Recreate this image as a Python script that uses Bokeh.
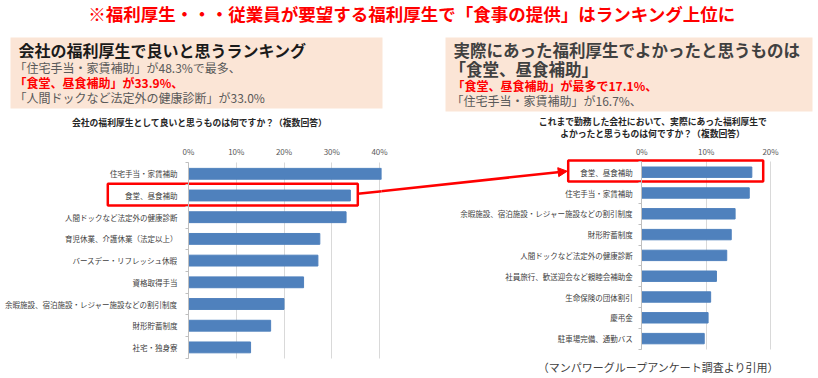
from bokeh.plotting import figure
from bokeh.models import (Range1d, FixedTicker, PrintfTickFormatter, Arrow, NormalHead)
from bokeh.layouts import column, row
from bokeh.core.properties import value
from bokeh.embed import file_html
from bokeh.resources import INLINE

FONT = "Noto Sans CJK JP"

# ---------------- data ----------------
main_title = "※福利厚生・・・従業員が要望する福利厚生で「食事の提供」はランキング上位に"

left_heading = "会社の福利厚生で良いと思うランキング"
left_lines = ["「住宅手当・家賃補助」が48.3%で最多、",
              "「食堂、昼食補助」が33.9%、",
              "「人間ドックなど法定外の健康診断」が33.0%"]
right_heading = ["実際にあった福利厚生でよかったと思うものは", "「食堂、昼食補助」"]
right_lines = ["「食堂、昼食補助」が最多で17.1%、",
               "「住宅手当・家賃補助」が16.7%、"]

left_chart_title = "会社の福利厚生として良いと思うものは何ですか？（複数回答）"
right_chart_title = ["これまで勤務した会社において、実際にあった福利厚生で",
                     "よかったと思うものは何ですか？（複数回答）"]
source_note = "（マンパワーグループアンケート調査より引用）"

left_cats = ["住宅手当・家賃補助", "食堂、昼食補助", "人間ドックなど法定外の健康診断",
             "育児休業、介護休業（法定以上）", "バースデー・リフレッシュ休暇", "資格取得手当",
             "余暇施設、宿泊施設・レジャー施設などの割引制度", "財形貯蓄制度", "社宅・独身寮"]
left_vals = [48.3, 33.9, 33.0, 27.5, 27.1, 24.1, 20.0, 17.2, 13.0]
left_ticks = [0, 10, 20, 30, 40]

right_cats = ["食堂、昼食補助", "住宅手当・家賃補助", "余暇施設、宿泊施設・レジャー施設などの割引制度",
              "財形貯蓄制度", "人間ドックなど法定外の健康診断", "社員旅行、歓送迎会など親睦会補助金",
              "生命保険の団体割引", "慶弔金", "駐車場完備、通勤バス"]
right_vals = [17.1, 16.7, 14.5, 13.9, 13.2, 11.6, 10.7, 10.3, 9.7]
right_ticks = [0, 10, 20]

BAR = "#4F81BD"
RED = "#FF0000"
BOX = "#FBE5D6"
GRID = "#D9D9D9"

# ---------------- header (page coordinates) ----------------
HW, HH = 818, 140
hdr = figure(width=HW, height=HH, x_range=Range1d(0, HW), y_range=Range1d(HH, 0),
             output_backend="svg", toolbar_location=None, min_border=0,
             x_axis_type=None, y_axis_type=None, outline_line_color=None)
hdr.xgrid.visible = False
hdr.ygrid.visible = False

hdr.quad(left=[10, 445], right=[382, 812], top=[37, 37], bottom=[108, 111],
         fill_color=BOX, line_color=None)

hdr.text(x=[411.5], y=[13], text=[main_title], text_font=value(FONT),
         text_font_size="17.5px", text_font_style="bold", text_color=RED,
         text_align="center", text_baseline="middle")

hdr.text(x=[18], y=[49], text=[left_heading], text_font=value(FONT),
         text_font_size="16px", text_font_style="bold", text_color="#1A1A1A",
         text_align="left", text_baseline="middle")
hdr.text(x=[14, 14, 14], y=[67.3, 81.7, 96.7], text=left_lines, text_font=value(FONT),
         text_font_size="12px",
         text_font_style=["normal", "bold", "normal"],
         text_color=["#595959", RED, "#595959"],
         text_align="left", text_baseline="middle")

hdr.text(x=[453, 449], y=[49, 68.3], text=right_heading, text_font=value(FONT),
         text_font_size="16.5px", text_font_style="bold", text_color="#404040",
         text_align="left", text_baseline="middle")
hdr.text(x=[452, 451], y=[85, 100], text=right_lines, text_font=value(FONT),
         text_font_size="12px", text_font_style=["bold", "normal"],
         text_color=[RED, "#595959"], text_align="left", text_baseline="middle")

hdr.text(x=[199], y=[122], text=[left_chart_title], text_font=value(FONT),
         text_font_size="8.8px", text_font_style="bold", text_color="#262626",
         text_align="center", text_baseline="middle")
hdr.text(x=[652.5, 652], y=[121, 132.7], text=right_chart_title, text_font=value(FONT),
         text_font_size="8.8px", text_font_style="bold", text_color="#262626",
         text_align="center", text_baseline="middle")


CH = 238          # chart figure height (page 140..378)
CTOP = 18         # border above frame (x-axis labels)
FRAME_TOP = HH + CTOP


def style_chart(p, cats, ticks, standoff_y):
    n = len(cats)
    ticker = FixedTicker(ticks=ticks)
    p.xaxis.ticker = ticker
    p.xgrid.ticker = ticker
    p.xaxis.formatter = PrintfTickFormatter(format="%d%%")
    p.xaxis.axis_line_color = None
    p.xaxis.major_tick_line_color = None
    p.xaxis.minor_tick_line_color = None
    p.xaxis.major_tick_out = 0
    p.xaxis.major_tick_in = 0
    p.xaxis.major_label_standoff = 2
    p.xaxis.major_label_text_font = FONT
    p.xaxis.major_label_text_font_size = "8px"
    p.xaxis.major_label_text_color = "#595959"
    p.xgrid.grid_line_color = GRID
    try:
        p.xgrid.cross_bounds = (-0.5, n - 0.5)
    except Exception:
        pass
    p.ygrid.visible = False
    p.yaxis.ticker = FixedTicker(ticks=list(range(n)),
                                 minor_ticks=[i - 0.5 for i in range(n + 1)])
    p.yaxis.major_label_overrides = {i: c for i, c in enumerate(cats)}
    p.yaxis.fixed_location = 0
    p.yaxis.bounds = (-0.5, n - 0.5)
    p.yaxis.axis_line_color = "#BFBFBF"
    p.yaxis.major_tick_line_color = None
    p.yaxis.major_tick_out = 0
    p.yaxis.major_tick_in = 0
    p.yaxis.minor_tick_line_color = "#BFBFBF"
    p.yaxis.minor_tick_out = 3
    p.yaxis.minor_tick_in = 0
    p.yaxis.major_label_standoff = standoff_y
    p.yaxis.major_label_text_font = FONT
    p.yaxis.major_label_text_font_size = "7.5px"
    p.yaxis.major_label_text_color = "#404040"
    p.outline_line_color = None


# ---------------- left chart ----------------
LW, L_RB = 400, 19
L_ZERO, L_PX = 188.0, 4.775          # page x of 0 %, px per %
L_Y0, L_DY = 173.3, 21.7             # page y of first category, px per category
def lx(px): return (px - L_ZERO) / L_PX
def ly(py): return (py - L_Y0) / L_DY

lp = figure(width=LW, height=CH,
            x_range=Range1d(lx(0), lx(LW - L_RB)),
            y_range=Range1d(ly(HH + CH), ly(FRAME_TOP)),
            x_axis_location="above", output_backend="svg", toolbar_location=None,
            min_border_left=0, min_border_right=L_RB, min_border_top=CTOP,
            min_border_bottom=0)
left_pos = list(range(len(left_cats)))
lp.hbar(y=left_pos, right=left_vals, left=0, height=0.5, fill_color=BAR, line_color=BAR)
style_chart(lp, left_cats, left_ticks, 8)

lp.quad(left=[lx(107.3)], right=[lx(357.3)], top=[ly(183.3)], bottom=[ly(205)],
        fill_color=None, line_color=RED, line_width=2.5)
lp.add_layout(Arrow(end=None, x_start=lx(357.3), y_start=ly(193.3),
                    x_end=lx(386), y_end=ly(190.2), line_color=RED, line_width=2.5))

# ---------------- right chart ----------------
RW = 818 - (LW - L_RB)
R_ZERO, R_PX = 641.3, 6.435
R_Y0, R_DY = 171.7, 20.8
R_X0 = LW - L_RB                     # page x of the right figure's left edge
def rx(px): return (px - R_ZERO) / R_PX
def ry(py): return (py - R_Y0) / R_DY

rp = figure(width=RW, height=CH,
            x_range=Range1d(rx(R_X0), rx(818)),
            y_range=Range1d(ry(HH + CH), ry(FRAME_TOP)),
            x_axis_location="above", output_backend="svg", toolbar_location=None,
            min_border_left=0, min_border_right=0, min_border_top=CTOP,
            min_border_bottom=0, margin=(0, 0, 0, -L_RB),
            background_fill_color=None, border_fill_color=None)
right_pos = list(range(len(right_cats)))
rp.hbar(y=right_pos, right=right_vals, left=0, height=0.5, fill_color=BAR, line_color=BAR)
style_chart(rp, right_cats, right_ticks, 6)

rp.quad(left=[rx(567.7)], right=[rx(762.7)], top=[ry(160)], bottom=[ry(181)],
        fill_color=None, line_color=RED, line_width=2.5)
rp.add_layout(Arrow(end=NormalHead(size=9, fill_color=RED, line_color=RED),
                    x_start=rx(376), y_start=ry(191.3), x_end=rx(566.7), y_end=ry(170.7),
                    line_color=RED, line_width=2.5))

rp.text(x=[rx(658.3)], y=[ry(366.5)], text=[source_note], text_font=value(FONT),
        text_font_size="11px", text_color="#404040", text_align="center",
        text_baseline="middle")

layout = column(hdr, row(lp, rp))
open("out.html", "w").write(file_html(layout, INLINE))
